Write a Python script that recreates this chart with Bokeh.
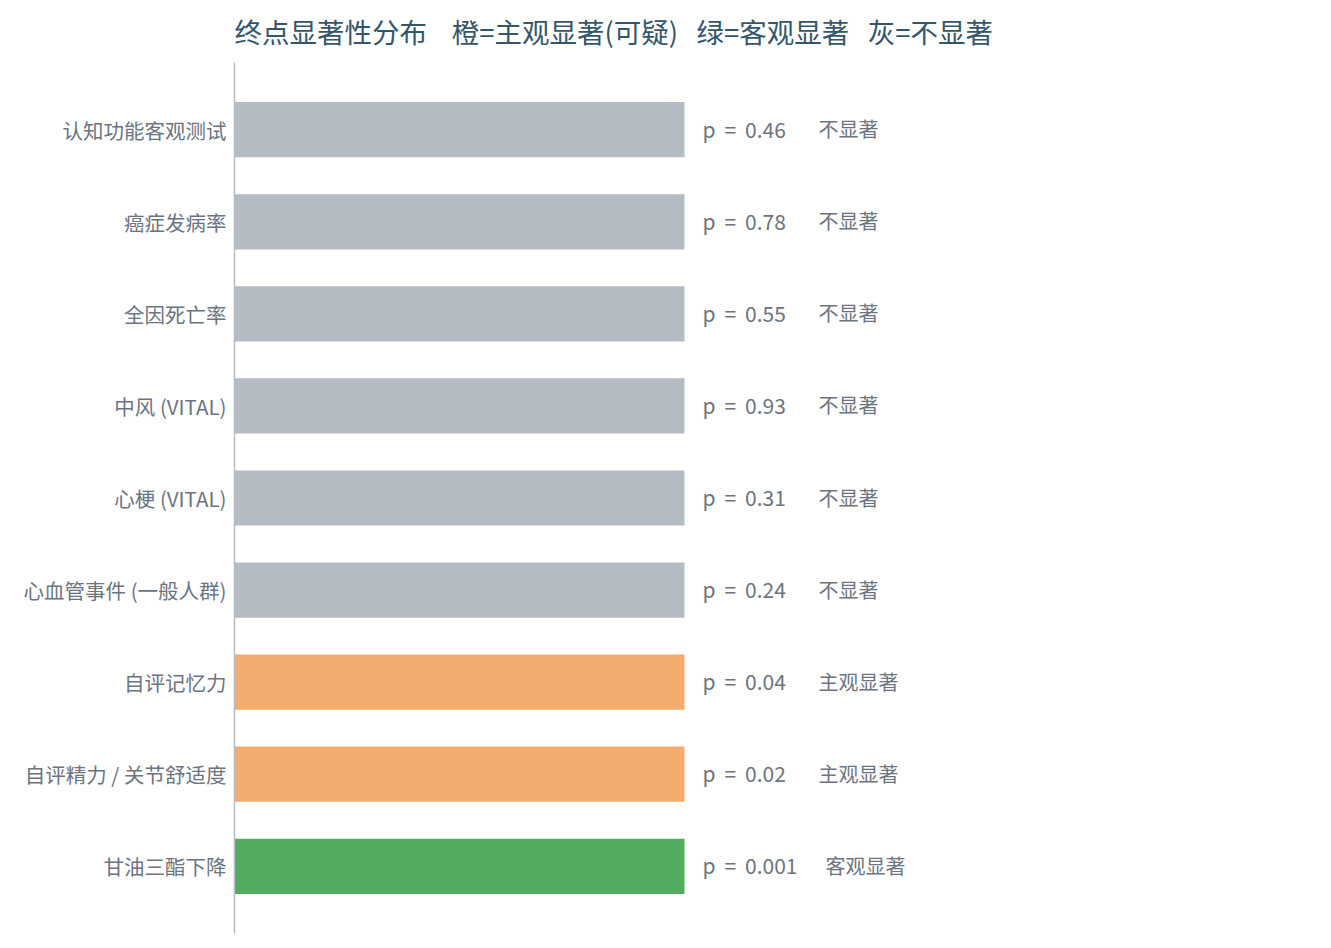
from bokeh.plotting import figure
from bokeh.models import ColumnDataSource, FactorRange, Range1d
from bokeh.embed import file_html
from bokeh.resources import INLINE
from bokeh.core.properties import value

endpoints = ["认知功能客观测试", "癌症发病率", "全因死亡率", "中风 (VITAL)", "心梗 (VITAL)",
             "心血管事件 (一般人群)", "自评记忆力", "自评精力 / 关节舒适度", "甘油三酯下降"]
pvals = ["0.46", "0.78", "0.55", "0.93", "0.31", "0.24", "0.04", "0.02", "0.001"]
status = ["不显著", "不显著", "不显著", "不显著", "不显著", "不显著", "主观显著", "主观显著", "客观显著"]
bar_len = [1, 1, 1, 1, 1, 1, 1, 1, 1]

status_color = {"不显著": "#b5bbc3", "主观显著": "#f4ab6e", "客观显著": "#52ac5f"}
FONT = "Noto Sans CJK SC"
NB = "\u00a0"

src = ColumnDataSource(dict(
    y=endpoints, v=bar_len, c=[status_color[s] for s in status],
    plab=[f"p{NB}\u2009={NB}\u2009{p}" for p in pvals], slab=status,
    soff=[134 + 7 * (len(p) - 4) for p in pvals],
))

FRAME_W = 1080
p = figure(width=234 + FRAME_W, height=940, output_backend="svg", toolbar_location=None,
           y_range=FactorRange(factors=list(reversed(endpoints)), range_padding=0.23,
                               range_padding_units="absolute"),
           x_range=Range1d(0, FRAME_W / 450),
           min_border_left=234, min_border_right=0, min_border_bottom=7, min_border_top=62)

p.hbar(y="y", right="v", left=0, height=0.6, color="c", line_color=None, source=src)
p.text(x="v", y="y", text="plab", source=src, x_offset=18, y_offset=-1, text_baseline="middle",
       text_font=value(FONT), text_font_size="21px", text_color="#6b7480")
p.text(x="v", y="y", text="slab", source=src, x_offset="soff", y_offset=-1, text_baseline="middle",
       text_font=value(FONT), text_font_size="20px", text_color="#6b7480")

p.title.text = ("终点显著性分布" + NB * 4 + "橙=主观显著(可疑)" + NB * 3 +
                "绿=客观显著" + NB * 3 + "灰=不显著")
p.title.text_font = FONT
p.title.text_font_size = "27.5px"
p.title.text_font_style = "normal"
p.title.text_color = "#34566a"
p.title.align = "left"
p.title.vertical_align = "top"
p.title.offset = 0
p.title.standoff = 20

p.xaxis.visible = False
p.yaxis.major_tick_line_color = None
p.yaxis.minor_tick_line_color = None
p.yaxis.axis_line_color = "#b5bbc3"
p.yaxis.axis_line_width = 1.5
p.yaxis.major_label_text_font = FONT
p.yaxis.major_label_text_font_size = "20.5px"
p.yaxis.major_label_text_color = "#6b7480"
p.yaxis.major_label_standoff = 2
p.xgrid.visible = False
p.ygrid.visible = False
p.outline_line_color = None

open("out.html", "w").write(file_html(p, INLINE))
